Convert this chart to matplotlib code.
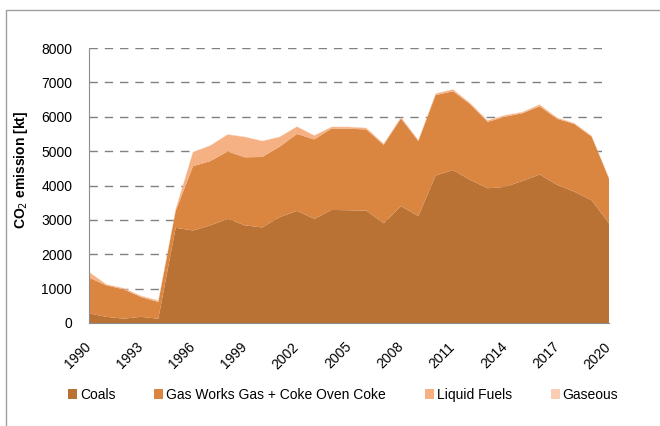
import matplotlib
matplotlib.use('Agg')
import matplotlib.pyplot as plt
import matplotlib.transforms as mtransforms
from matplotlib.patches import Patch, Rectangle

plt.rcParams['font.family'] = ['Liberation Sans', 'DejaVu Sans']

# data (kt CO2)
years = list(range(1990, 2021))
coals = [280, 180, 125, 180, 125, 2770, 2690, 2840, 3030, 2840, 2780, 3080, 3260, 3030, 3290,
         3280, 3270, 2900, 3400, 3110, 4290, 4450, 4160, 3920, 3960, 4130, 4320, 4020, 3820, 3570, 2900]
gas_works = [1040, 915, 855, 575, 485, 490, 1870, 1870, 1960, 1980, 2050, 2050, 2240, 2310, 2370,
             2370, 2360, 2280, 2550, 2180, 2340, 2290, 2200, 1930, 2040, 1970, 1980, 1920, 1970, 1850, 1300]
liquid = [160, 25, 30, 30, 40, 40, 410, 450, 490, 590, 460, 280, 210, 110, 40,
          50, 40, 30, 30, 30, 40, 50, 30, 40, 40, 30, 50, 30, 20, 20, 20]
gaseous = [10] * 31

labels = ['Coals', 'Gas Works Gas + Coke Oven Coke', 'Liquid Fuels', 'Gaseous']
colors = ['#B97234', '#DA8540', '#F5B084', '#FACDB3']
xticks = list(range(1990, 2021, 3))

fig = plt.figure(figsize=(6.6, 4.26), dpi=100)
ax = fig.add_axes([89/660, 1 - 323/426, 520/660, 275/426])

ax.stackplot(years, coals, gas_works, liquid, gaseous, colors=colors,
             linewidth=0, zorder=2)

ax.set_xlim(1990, 2020)
ax.set_ylim(0, 8000)
ax.set_yticks(range(0, 8001, 1000))
ax.set_xticks(xticks)
ax.set_xticklabels([str(y) for y in xticks], rotation=45, ha='right', rotation_mode='anchor')
ax.tick_params(axis='both', length=0, labelsize=10, colors='black')
ax.tick_params(axis='y', pad=12)
ax.tick_params(axis='x', pad=12)
# nudge the rotated year labels a bit to the left, like Excel does
shift = mtransforms.ScaledTranslation(-5/100, 0, fig.dpi_scale_trans)
for lab in ax.get_xticklabels():
    lab.set_transform(lab.get_transform() + shift)

ax.grid(axis='y', color='#808080', linestyle=(0, (6, 5)), linewidth=1, zorder=1)
ax.set_axisbelow(True)
for s in ['top', 'right']:
    ax.spines[s].set_visible(False)
for s in ['left', 'bottom']:
    ax.spines[s].set_color('#8C8C8C')
    ax.spines[s].set_zorder(3)

ax.set_ylabel('CO$_2$ emission [kt]', fontsize=10, fontweight='bold')
ax.yaxis.set_label_coords(-0.114, 0.558)

handles = [Patch(facecolor=c, edgecolor='none') for c in colors]
fig.legend(handles, labels, loc='center', bbox_to_anchor=(0.52, 0.073), ncol=4,
           frameon=False, fontsize=10, handlelength=0.65, handleheight=0.65,
           handletextpad=0.2, columnspacing=2.8)

# outer chart frame (cut at right and bottom as in the reference)
fig.patches.append(Rectangle((6/660, -0.5), 2, 0.5 + 1 - 10/426, transform=fig.transFigure,
                             fill=False, edgecolor='#A0A0A0', linewidth=1))

fig.savefig('out.png', dpi=100)
